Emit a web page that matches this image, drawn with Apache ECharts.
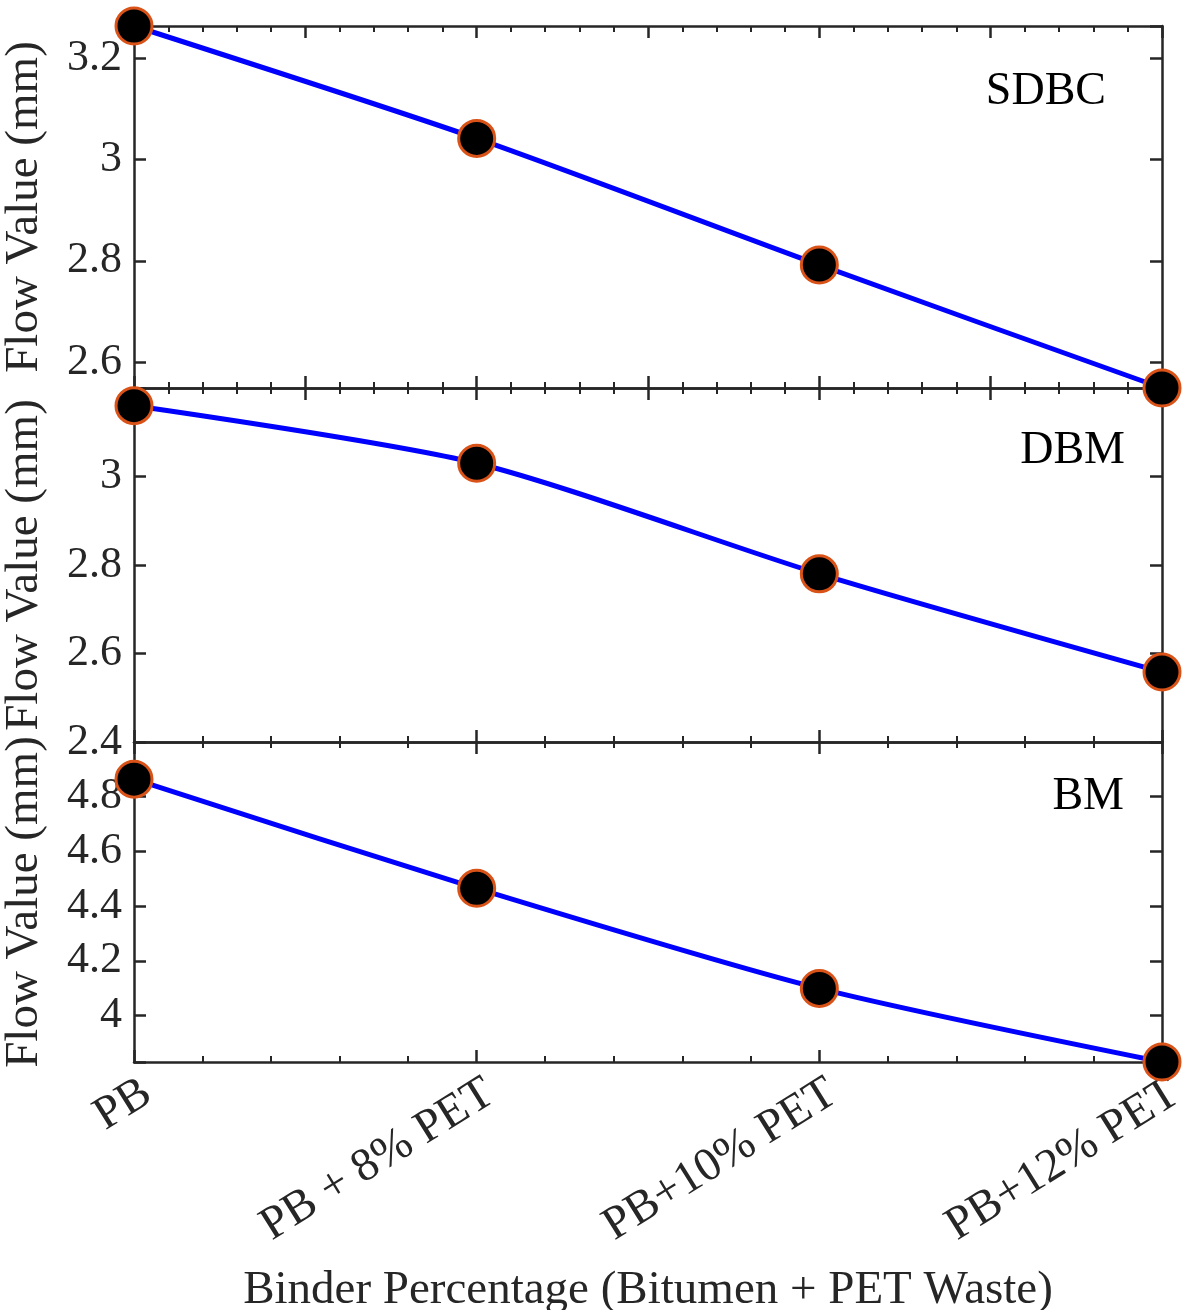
<!DOCTYPE html>
<html><head><meta charset="utf-8">
<script src="https://cdn.jsdelivr.net/npm/echarts@6/dist/echarts.min.js"></script>
<style>html,body{margin:0;padding:0;background:#fff}#c{width:1184px;height:1310px}</style>
</head><body><div id="c"></div>
<script>
// ---- data ----
const categories = ['PB', 'PB + 8% PET', 'PB+10% PET', 'PB+12% PET'];
const panelNames = ['SDBC', 'DBM', 'BM'];
const sdbcFlow = [3.264, 3.042, 2.792, 2.549];
const dbmFlow = [3.16, 3.03, 2.78, 2.558];
const bmFlow = [4.864, 4.465, 4.099, 3.83];
const yAxisTitle = 'Flow Value (mm)';
const xAxisTitle = 'Binder Percentage (Bitumen + PET Waste)';

const panelData = [sdbcFlow, dbmFlow, bmFlow];
const yMins = [Math.min(...sdbcFlow), 2.4, Math.min(...bmFlow)];
const yMaxs = [Math.max(...sdbcFlow), 3.2, 5.0];

// ---- layout / style ----
const FONT = 'Liberation Serif';
const AX = '#262626';
const gridDefs = [{top: 26, height: 362}, {top: 388, height: 354}, {top: 742, height: 320}];
const splitNums = [4, 4, 6];
const annPos = [{x: 1106, y: 92}, {x: 1125, y: 451}, {x: 1124, y: 797}];

const lineStyle = {color: AX, width: 2.5};
const grid = gridDefs.map(g => ({left: 134, width: 1028, top: g.top, height: g.height,
  containLabel: false, outerBoundsMode: 'none'}));

const xAxis = [];
const yAxis = [];
panelData.forEach((d, i) => {
  const mkX = (pos, showLabel, interval) => ({
    type: 'value', gridIndex: i, position: pos, min: 0, max: 3, interval: interval,
    axisLine: {show: true, onZero: false, lineStyle},
    axisTick: {show: true, inside: true, length: 12, lineStyle},
    minorTick: {show: true, splitNumber: 5, length: 6, lineStyle: {color: AX, width: 2}},
    splitLine: {show: false},
    axisLabel: showLabel ? {
      show: true, rotate: 32, margin: 36, fontSize: 47, fontFamily: FONT, color: AX,
      padding: [0, -16, 0, 0],
      formatter: v => categories[Math.round(v)]
    } : {show: false},
    name: showLabel ? xAxisTitle : '',
    nameLocation: 'middle', nameGap: 205,
    nameTextStyle: {fontSize: 47, fontFamily: FONT, color: AX}
  });
  xAxis.push(mkX('bottom', i === 2, i === 0 ? 0.5 : 1));
  xAxis.push(mkX('top', false, i === 2 ? 1 : 0.5));
  const mn = yMins[i], mx = yMaxs[i];
  const fmt = v => {
    const k = v / 0.2;
    if (Math.abs(k - Math.round(k)) > 1e-6) return '';
    if (v > mx - 1e-6) return '';
    return String(Math.round(v * 10) / 10);
  };
  const mkY = (pos, showLabel) => ({
    type: 'value', gridIndex: i, position: pos, min: mn, max: mx, splitNumber: splitNums[i],
    axisLine: {show: true, onZero: false, lineStyle},
    axisTick: {show: true, inside: true, length: 12, lineStyle},
    splitLine: {show: false},
    axisLabel: showLabel ? {show: true, margin: 12, fontSize: 44, fontFamily: FONT, color: AX, formatter: fmt,
      showMinLabel: true, showMaxLabel: true} : {show: false},
    name: showLabel ? yAxisTitle : '',
    nameLocation: 'middle', nameRotate: 90, nameGap: 86,
    nameTextStyle: {fontSize: 47, fontFamily: FONT, color: AX}
  });
  yAxis.push(mkY('left', true));
  yAxis.push(mkY('right', false));
});

const series = panelData.map((d, i) => ({
  type: 'line', xAxisIndex: i * 2, yAxisIndex: i * 2,
  data: d.map((v, j) => [j, v]),
  smooth: 0.25, clip: false,
  lineStyle: {color: '#0000ff', width: 5},
  symbol: 'circle', symbolSize: 36,
  itemStyle: {color: '#000000', borderColor: '#D95319', borderWidth: 3},
  z: 10
}));

const graphic = panelNames.map((t, i) => ({
  type: 'text', x: annPos[i].x, y: annPos[i].y, z: 20,
  style: {text: t, fontSize: 46, fontFamily: FONT, fill: '#000', align: 'right', verticalAlign: 'middle'}
}));

const chart = echarts.init(document.getElementById('c'), null, {renderer: 'canvas'});
chart.setOption({animation: false, backgroundColor: '#fff', grid, xAxis, yAxis, series, graphic});
</script></body></html>
